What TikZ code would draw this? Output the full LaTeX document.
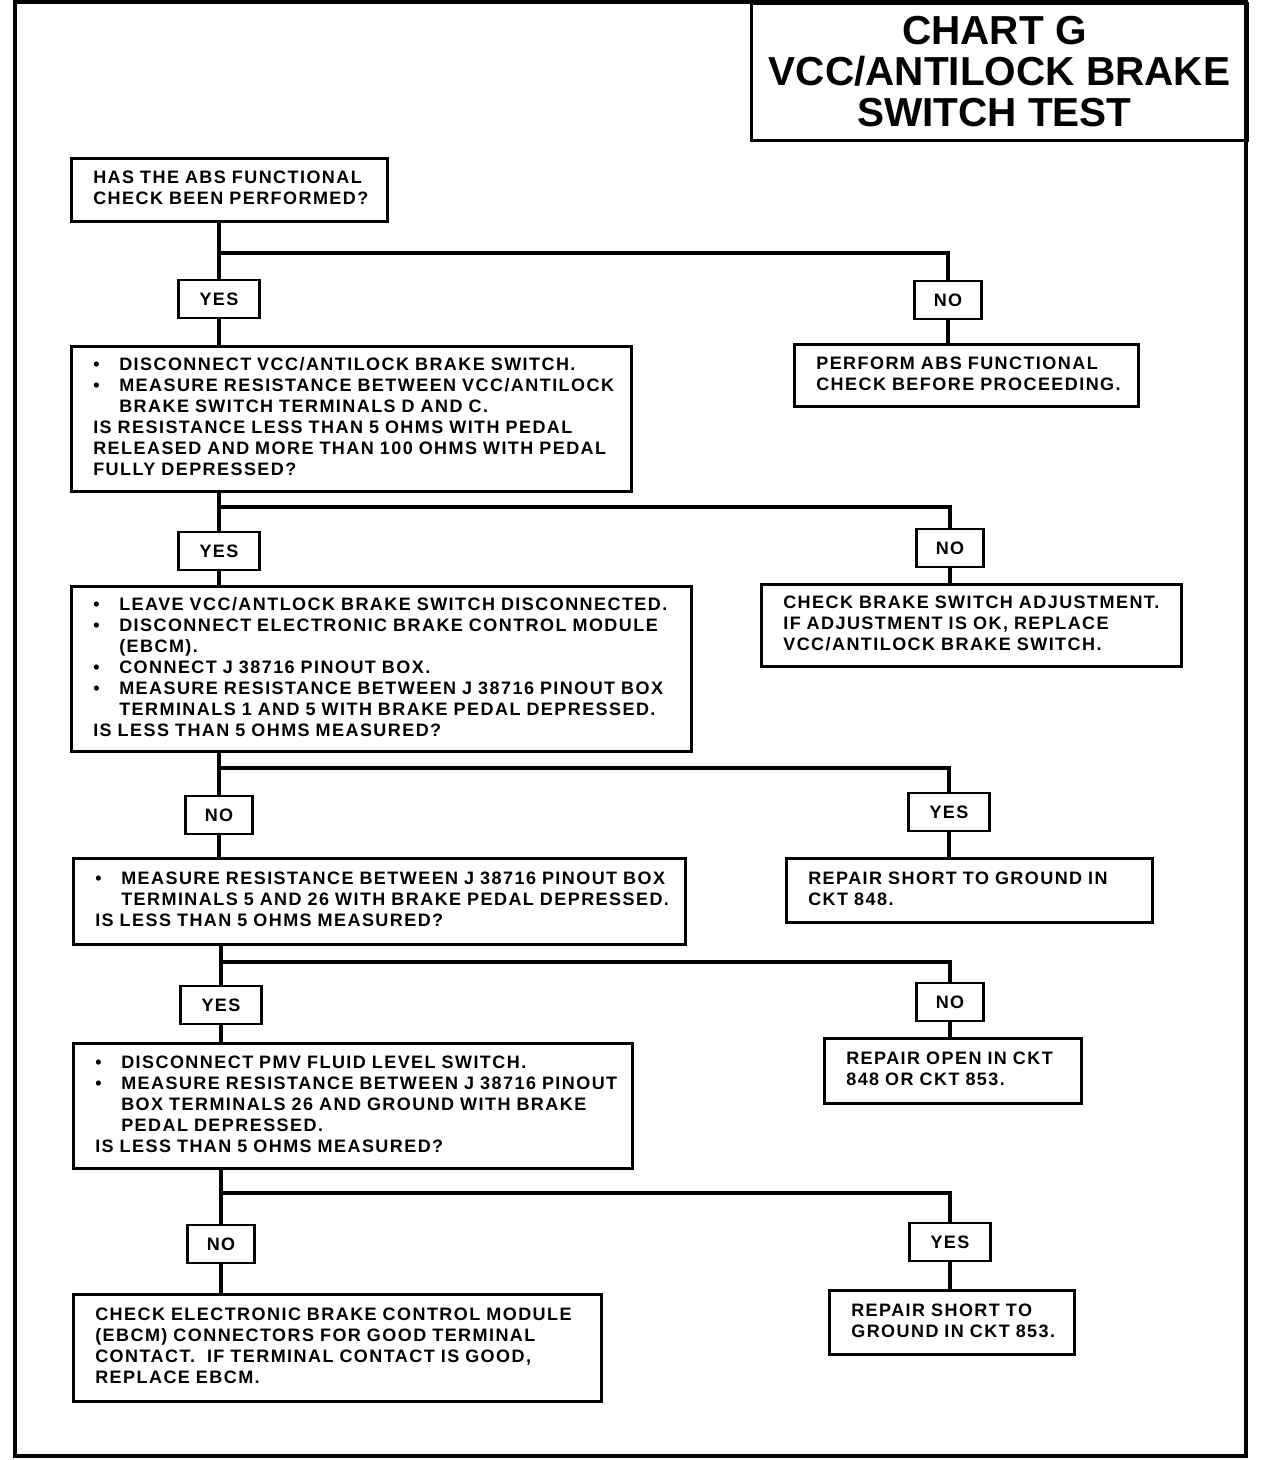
\documentclass[tikz,border=0pt]{standalone}
\usepackage{fontspec}
\setmainfont{Liberation Sans}
\newfontfamily\bodyf[LetterSpace=8]{Liberation Sans}
\newfontfamily\titlef{Liberation Sans}
\newcommand\bulx{\makebox[26pt][l]{\textbullet}}
\newcommand\indx{\hspace*{26pt}}
\newcommand\boxtext[1]{\begin{tabular}{@{}l@{}}#1\end{tabular}}
\begin{document}
\begin{tikzpicture}[x=1pt,y=-1pt,
  bodyfont/.style={font=\bodyf\bfseries\fontsize{18}{21}\selectfont},
  box/.style={draw, line width=2.6pt, anchor=north west, inner xsep=22pt, inner ysep=0pt, align=left, bodyfont},
  yn/.style={draw, line width=2.6pt, minimum height=38pt, inner sep=0pt, bodyfont},
  yesbox/.style={yn, minimum width=81pt},
  nobox/.style={yn, minimum width=67pt},
  link/.style={line width=4.5pt}]
\useasboundingbox (0,0) rectangle (1264,1460);
\draw[line width=4pt] (15,2) rectangle (1246,1456);
\node[draw, line width=3pt, anchor=north west, minimum width=496pt, minimum height=137pt, inner sep=0pt, align=center,
  font=\titlef\bfseries\fontsize{40.5}{41}\selectfont] (title) at (750,2) {CHART G\hspace*{10pt}\\VCC/ANTILOCK BRAKE\hspace*{10pt}\\SWITCH TEST\hspace*{10pt}};

% left column
\node[box, minimum width=316pt, minimum height=63pt, text width=272pt] (b1) at (70,157)
  {\boxtext{HAS THE ABS FUNCTIONAL\\CHECK BEEN PERFORMED?}};
\node[box, minimum width=560pt, minimum height=145pt, text width=516pt] (b2) at (70,345)
  {\boxtext{\bulx DISCONNECT VCC/ANTILOCK BRAKE SWITCH.\\
   \bulx MEASURE RESISTANCE BETWEEN VCC/ANTILOCK\\
   \indx BRAKE SWITCH TERMINALS D AND C.\\
   IS RESISTANCE LESS THAN 5 OHMS WITH PEDAL\\
   RELEASED AND MORE THAN 100 OHMS WITH PEDAL\\
   FULLY DEPRESSED?}};
\node[box, minimum width=620pt, minimum height=165pt, text width=576pt] (b3) at (70,585)
  {\boxtext{\bulx LEAVE VCC/ANTLOCK BRAKE SWITCH DISCONNECTED.\\
   \bulx DISCONNECT ELECTRONIC BRAKE CONTROL MODULE\\
   \indx (EBCM).\\
   \bulx CONNECT J 38716 PINOUT BOX.\\
   \bulx MEASURE RESISTANCE BETWEEN J 38716 PINOUT BOX\\
   \indx TERMINALS 1 AND 5 WITH BRAKE PEDAL DEPRESSED.\\
   IS LESS THAN 5 OHMS MEASURED?}};
\node[box, minimum width=612pt, minimum height=86pt, text width=568pt] (b4) at (72,857)
  {\boxtext{\bulx MEASURE RESISTANCE BETWEEN J 38716 PINOUT BOX\\
   \indx TERMINALS 5 AND 26 WITH BRAKE PEDAL DEPRESSED.\\
   IS LESS THAN 5 OHMS MEASURED?}};
\node[box, minimum width=559pt, minimum height=125pt, text width=515pt] (b5) at (72,1042)
  {\boxtext{\bulx DISCONNECT PMV FLUID LEVEL SWITCH.\\
   \bulx MEASURE RESISTANCE BETWEEN J 38716 PINOUT\\
   \indx BOX TERMINALS 26 AND GROUND WITH BRAKE\\
   \indx PEDAL DEPRESSED.\\
   IS LESS THAN 5 OHMS MEASURED?}};
\node[box, minimum width=528pt, minimum height=107pt, text width=484pt] (b6) at (72,1293)
  {\boxtext{CHECK ELECTRONIC BRAKE CONTROL MODULE\\
   (EBCM) CONNECTORS FOR GOOD TERMINAL\\
   CONTACT.\ \ IF TERMINAL CONTACT IS GOOD,\\
   REPLACE EBCM.}};

% right column
\node[box, minimum width=344pt, minimum height=62pt, text width=300pt] (r1) at (793,343)
  {\boxtext{PERFORM ABS FUNCTIONAL\\CHECK BEFORE PROCEEDING.}};
\node[box, minimum width=420pt, minimum height=82pt, text width=376pt] (r2) at (760,583)
  {\boxtext{CHECK BRAKE SWITCH ADJUSTMENT.\\IF ADJUSTMENT IS OK, REPLACE\\VCC/ANTILOCK BRAKE SWITCH.}};
\node[box, minimum width=366pt, minimum height=64pt, text width=322pt] (r3) at (785,857)
  {\boxtext{REPAIR SHORT TO GROUND IN\\CKT 848.}};
\node[box, minimum width=257pt, minimum height=65pt, text width=213pt] (r4) at (823,1037)
  {\boxtext{REPAIR OPEN IN CKT\\848 OR CKT 853.}};
\node[box, minimum width=245pt, minimum height=64pt, text width=201pt] (r5) at (828,1289)
  {\boxtext{REPAIR SHORT TO\\GROUND IN CKT 853.}};

% yes / no boxes
\node[yesbox] (y1) at (219,299) {YES};
\node[nobox]  (n1) at (948,300) {NO};
\node[yesbox] (y2) at (219,551) {YES};
\node[nobox]  (n2) at (950,548) {NO};
\node[nobox]  (n3) at (219,815) {NO};
\node[yesbox] (y3) at (949,812) {YES};
\node[yesbox] (y4) at (221,1005) {YES};
\node[nobox]  (n4) at (950,1002) {NO};
\node[nobox]  (n5) at (221,1244) {NO};
\node[yesbox] (y5) at (950,1242) {YES};

% junctions
\coordinate (j1) at (219,253);
\coordinate (j2) at (219,507);
\coordinate (j3) at (219,768);
\coordinate (j4) at (221,962);
\coordinate (j5) at (221,1193);

% connectors
\draw[link] (b1.south -| y1) -- (y1.north);
\draw[link] (j1) -| (n1.north);
\draw[link] (y1.south) -- (y1.south |- b2.north);
\draw[link] (n1.south) -- (n1.south |- r1.north);

\draw[link] (b2.south -| y2) -- (y2.north);
\draw[link] (j2) -| (n2.north);
\draw[link] (y2.south) -- (y2.south |- b3.north);
\draw[link] (n2.south) -- (n2.south |- r2.north);

\draw[link] (b3.south -| n3) -- (n3.north);
\draw[link] (j3) -| (y3.north);
\draw[link] (n3.south) -- (n3.south |- b4.north);
\draw[link] (y3.south) -- (y3.south |- r3.north);

\draw[link] (b4.south -| y4) -- (y4.north);
\draw[link] (j4) -| (n4.north);
\draw[link] (y4.south) -- (y4.south |- b5.north);
\draw[link] (n4.south) -- (n4.south |- r4.north);

\draw[link] (b5.south -| n5) -- (n5.north);
\draw[link] (j5) -| (y5.north);
\draw[link] (n5.south) -- (n5.south |- b6.north);
\draw[link] (y5.south) -- (y5.south |- r5.north);
\end{tikzpicture}
\end{document}
